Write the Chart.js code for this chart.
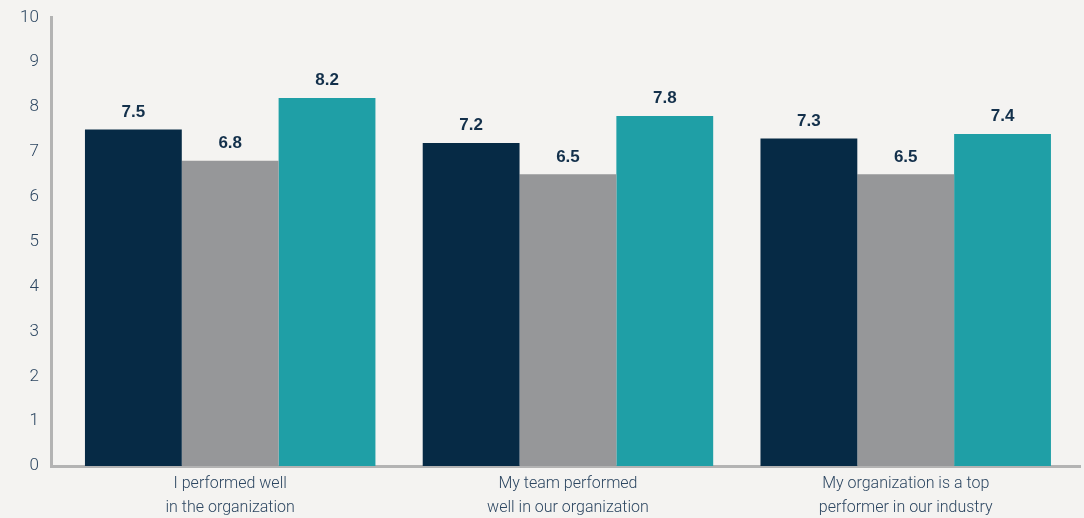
<!DOCTYPE html>
<html>
<head>
<meta charset="utf-8">
<script src="https://cdn.jsdelivr.net/npm/chart.js@4.4.1/dist/chart.umd.min.js"></script>
<style>
  html, body { margin: 0; padding: 0; background: #f4f3f1; }
  .wrap { width: 1084px; height: 518px; position: relative; }
</style>
</head>
<body>
<div class="wrap"><canvas id="perf"></canvas></div>
<script>
  // categories and the three series
  var categories = [
    ["I performed well", "in the organization"],
    ["My team performed", "well in our organization"],
    ["My organization is a top", "performer in our industry"]
  ];
  var seriesA = [7.5, 7.2, 7.3];
  var seriesB = [6.8, 6.5, 6.5];
  var seriesC = [8.2, 7.8, 7.4];
  var yTicks = [0, 1, 2, 3, 4, 5, 6, 7, 8, 9, 10];

  var barColors = ["#062a45", "#969799", "#1f9fa6"];
  var textColor = "#2c4661";

  function points(arr) {
    return arr.map(function (v, i) { return { x: i, y: v }; });
  }

  // value labels above each bar
  var valueLabels = {
    id: 'valueLabels',
    afterDatasetsDraw: function (chart) {
      var ctx = chart.ctx;
      ctx.save();
      ctx.font = 'bold 17px "Liberation Sans", Arial, sans-serif';
      ctx.fillStyle = "#13304b";
      ctx.textAlign = 'center';
      ctx.textBaseline = 'bottom';
      chart.data.datasets.forEach(function (ds, di) {
        chart.getDatasetMeta(di).data.forEach(function (bar, i) {
          ctx.fillText(ds.data[i].y.toFixed(1), bar.x, bar.y - 9);
        });
      });
      ctx.restore();
    }
  };

  new Chart(document.getElementById('perf'), {
    type: 'bar',
    data: {
      datasets: [
        { label: 'A', data: points(seriesA), backgroundColor: barColors[0] },
        { label: 'B', data: points(seriesB), backgroundColor: barColors[1] },
        { label: 'C', data: points(seriesC), backgroundColor: barColors[2] }
      ]
    },
    plugins: [valueLabels],
    options: {
      responsive: true,
      maintainAspectRatio: false,
      animation: false,
      layout: { padding: { left: 7, right: 4, top: 0, bottom: 0 } },
      datasets: { bar: { categoryPercentage: 0.86, barPercentage: 1 } },
      plugins: { legend: { display: false }, tooltip: { enabled: false } },
      scales: {
        x: {
          type: 'linear',
          offset: false,
          min: -0.528,
          max: 2.516,
          afterBuildTicks: function (axis) {
            axis.ticks = categories.map(function (c, i) { return { value: i }; });
          },
          afterFit: function (axis) { axis.height = 52; },
          grid: { display: false, drawTicks: false },
          border: { display: true, color: '#b3b3b3', width: 3 },
          ticks: {
            padding: 6,
            color: textColor,
            font: { family: 'Roboto', size: 16, weight: 300, lineHeight: 1.5 },
            callback: function (v) { return categories[v]; },
            maxRotation: 0,
            autoSkip: false
          }
        },
        y: {
          min: 0,
          max: 10,
          afterBuildTicks: function (axis) {
            axis.ticks = yTicks.map(function (v) { return { value: v }; });
          },
          grid: { display: false, drawTicks: false },
          border: { display: true, color: '#b3b3b3', width: 3 },
          ticks: {
            padding: 13,
            color: textColor,
            font: { family: 'Roboto', size: 17, weight: 300, lineHeight: 0.5 }
          }
        }
      }
    }
  });
</script>
</body>
</html>
